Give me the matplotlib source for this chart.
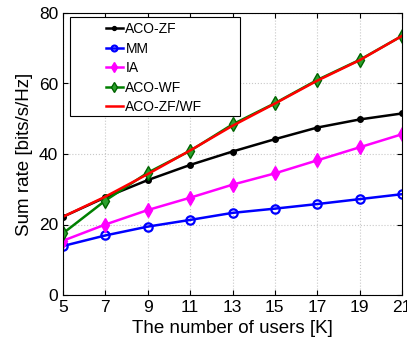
import numpy as np
import matplotlib
matplotlib.use('Agg')
import matplotlib.pyplot as plt
from matplotlib.patches import Rectangle

plt.rcParams['font.family'] = ['Liberation Sans', 'DejaVu Sans']

# Data
users = [5, 7, 9, 11, 13, 15, 17, 19, 21]
aco_zf = [22.2, 27.7, 32.6, 36.9, 40.7, 44.2, 47.5, 49.8, 51.5]
mm = [13.9, 16.9, 19.4, 21.3, 23.3, 24.5, 25.8, 27.2, 28.6]
ia = [15.4, 20.0, 24.1, 27.6, 31.3, 34.5, 38.2, 41.9, 45.6]
aco_wf = [17.5, 26.8, 34.7, 40.9, 48.4, 54.4, 61.0, 66.7, 73.5]
aco_zfwf = [22.2, 27.9, 34.3, 41.0, 48.0, 54.3, 60.8, 66.6, 73.5]

W, H = 407, 350
fig = plt.figure(figsize=(W / 100, H / 100), dpi=100)
ax = fig.add_axes([63 / W, 55 / H, 339 / W, 282 / H])

ax.plot(users, aco_zf, color='black', marker='o', markersize=4, lw=1.8,
        label='ACO-ZF')
ax.plot(users, mm, color='blue', marker='o', markersize=6, mfc='none',
        mew=1.6, lw=1.8, label='MM')
ax.plot(users, ia, color='magenta', marker='d', markersize=7, lw=1.8,
        label='IA')
ax.plot(users, aco_wf, color='green', marker='d', markersize=7, lw=1.8,
        mfc='#2ca02c', mec='darkgreen', label='ACO-WF')
ax.plot(users, aco_zfwf, color='red', lw=1.8, label='ACO-ZF/WF')

ax.set_xlim(5, 21)
ax.set_ylim(0, 80)
ax.set_xticks(users)
ax.set_yticks([0, 20, 40, 60, 80])
ax.tick_params(direction='in', top=True, right=True, labelsize=12.5)
ax.grid(True, linestyle=':', color='#c8c8c8', lw=0.8)
ax.set_xlabel('The number of users [K]', fontsize=13.5)
ax.set_ylabel('Sum rate [bits/s/Hz]', fontsize=13.5)

# matlab style legend: wide box, short handles
leg = ax.legend(loc='upper left', bbox_to_anchor=(106 / W, 1 - 22 / H),
                bbox_transform=fig.transFigure, frameon=False, fontsize=10,
                handlelength=1.2, handletextpad=0.2, borderpad=0,
                borderaxespad=0, labelspacing=0.4, markerscale=0.7)
frame = Rectangle((70 / W, 1 - 116 / H), 170 / W, 99 / H,
                  transform=fig.transFigure, facecolor='white',
                  edgecolor='black', lw=0.8, zorder=4)
ax.add_patch(frame)
frame.set_clip_on(False)
leg.set_zorder(5)

plt.savefig('out.png', dpi=100)
